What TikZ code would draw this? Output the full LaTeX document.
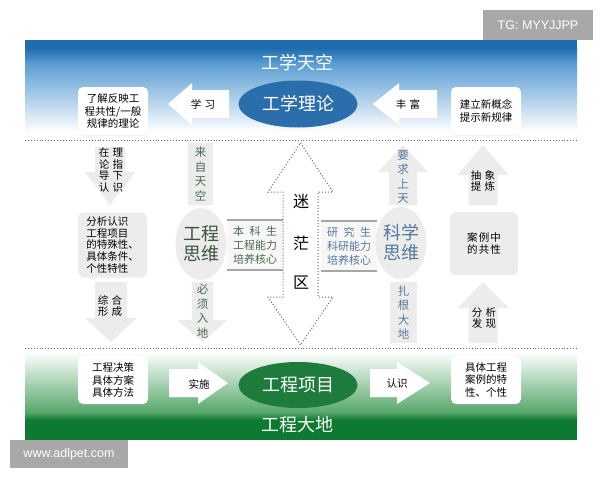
\documentclass[tikz,border=0pt]{standalone}
\usepackage{fontspec}
\setmainfont{Noto Sans CJK SC}
\newfontfamily\wmfont{Liberation Sans}
\usepackage{tikz}
\usetikzlibrary{shapes,positioning,shadows}

\definecolor{skyD}{HTML}{1E6CAD}
\definecolor{skyM}{HTML}{5C9ED3}
\definecolor{skyL}{HTML}{CFE3F3}
\definecolor{skyE}{HTML}{2A6EAB}
\definecolor{landD}{HTML}{0D7A31}
\definecolor{landM}{HTML}{58A86C}
\definecolor{landE}{HTML}{1D7B3C}
\definecolor{pale}{HTML}{ECECEC}
\definecolor{engtxt}{HTML}{4A6A4E}
\definecolor{scitxt}{HTML}{56789A}
\definecolor{wm}{HTML}{A8A8A8}

\newcommand{\gap}{\hspace{.3em}}

\tikzset{
  txt/.style={font=\fontsize{10.5}{11.7}\selectfont,align=center,inner sep=0pt},
  vtxt/.style={txt,font=\fontsize{11.5}{14.5}\selectfont},
  wbox/.style={txt,fill=white,rounded corners=5pt,minimum width=70pt,minimum height=48pt,
    font=\fontsize{10.5}{12.5}\selectfont,drop shadow={opacity=.12,shadow xshift=0pt,shadow yshift=-1pt}},
  gbox/.style={txt,fill=pale,rounded corners=6pt},
  bar/.style={vtxt,fill=pale},
  oval/.style={ellipse,inner sep=0pt,text=white,minimum width=119pt,minimum height=47pt,font=\fontsize{18}{20}\selectfont},
  think/.style={ellipse,fill=pale,minimum width=44pt,minimum height=72pt,inner sep=0pt,align=center,font=\fontsize{18}{20}\selectfont},
  core/.style={txt,fill=white!94!gray,minimum width=56pt,minimum height=50pt,font=\fontsize{11}{14}\selectfont},
  coreline/.style={line width=1.6pt,draw=gray!70},
  band/.style={text=white,inner sep=0pt,font=\fontsize{18}{20}\selectfont},
  fog/.style={inner sep=0pt,font=\fontsize{16}{18}\selectfont},
  sepline/.style={dotted,line width=.9pt,gray!80!black},
  fogline/.style={dotted,line width=1pt,gray!80!black,fill=white},
  wmbox/.style={fill=wm,text=white,inner sep=0pt,font=\wmfont\fontsize{12.5}{14}\selectfont},
  pics/varrow/.style n args={4}{code={%
    \fill[pic actions] (-#1,0) -- (-#1,{#3-(#4)}) -- (-#2,{#3-(#4)}) -- (0,#3)
      -- (#2,{#3-(#4)}) -- (#1,{#3-(#4)}) -- (#1,0) -- cycle;}},
  pics/harrow/.style n args={4}{code={%
    \fill[pic actions] (0,-#1) -- ({#3-(#4)},-#1) -- ({#3-(#4)},-#2) -- (#3,0)
      -- ({#3-(#4)},#2) -- ({#3-(#4)},#1) -- (0,#1) -- cycle;}},
}

\begin{document}
\begin{tikzpicture}[x=1pt,y=-1pt]
  \useasboundingbox (0,0) rectangle (600,480);

  % sky and land bands
  \fill[skyD] (25,40) rectangle (577,48);
  \shade[top color=skyD,bottom color=skyM] (25,48) rectangle (577,64);
  \shade[top color=skyM,middle color=skyL,bottom color=white] (25,64) rectangle (577,132);
  \shade[top color=white,bottom color=landM] (25,352) rectangle (577,412);
  \shade[top color=landM,bottom color=landD] (25,412) rectangle (577,420);
  \fill[landD] (25,420) rectangle (577,440);
  \draw[sepline] (25,140) -- (577,140);
  \draw[sepline] (25,348) -- (577,348);

  % watermarks
  \node[wmbox,minimum width=110pt,minimum height=30pt] (tg) at (538,25) {TG: MYYJJPP};
  \node[wmbox,minimum width=118pt,minimum height=28pt] (site) at (69,454) {www.adlpet.com};

  % sky row
  \node[band] (sky) at (297,63) {工学天空};
  \node[oval,fill=skyE] (theory) at (298,104) {工学理论};
  \node[wbox] (general) at (113,111) {了解反映工\\程共性/一般\\规律的理论};
  \node[wbox] (newlaw) at (486,111) {建立新概念\\提示新规律};
  \pic[fill=white] at (229,104) {harrow={14}{21}{-61}{-24}};
  \node[txt] (learn) at (203,104) {学\gap 习};
  \pic[fill=white] at (437,104) {harrow={14}{21}{-64}{-26}};
  \node[txt] (enrich) at (408,104) {丰\gap 富};

  % land row
  \node[band] (land) at (297,425) {工程大地};
  \node[oval,fill=landE,minimum height=46pt] (project) at (298,385) {工程项目};
  \node[wbox] (decide) at (113,380) {工程决策\\具体方案\\具体方法};
  \node[wbox] (feature) at (486,380) {具体工程\\案例的特\\性、个性};
  \pic[fill=white] at (169,383) {harrow={14}{21}{59}{30}};
  \node[txt] (apply) at (199,384) {实施};
  \pic[fill=white] at (370,383) {harrow={14}{21}{60}{33}};
  \node[txt] (know) at (397,384) {认识};

  % left column
  \pic[fill=pale] at (110,147) {varrow={15}{25}{58}{33}};
  \node[txt] (guide) at (111,170) {在\gap 理\\论\gap 指\\导\gap 下\\认\gap 识};
  \node[gbox,minimum width=69pt,minimum height=65pt,align=left] (analyse) at (112.5,245)
    {分析认识\\工程项目\\的特殊性、\\具体条件、\\个性特性};
  \pic[fill=pale] at (111,282) {varrow={16}{26}{60}{24}};
  \node[txt] (synth) at (110,306) {综\gap 合\\形\gap 成};

  % engineering thinking
  \node[bar,text=engtxt,minimum width=25pt,minimum height=62pt] (fromsky) at (200.5,174) {来\\自\\天\\空};
  \node[think,text=engtxt!80!black] (engthink) at (201,244) {工程\\思维};
  \pic[fill=pale] at (202.5,282) {varrow={10.5}{25}{60}{22}};
  \node[vtxt,text=engtxt] (mustland) at (202.5,311) {必\\须\\入\\地};
  \node[core,text=engtxt] (ugcore) at (255,245) {本\hspace{.5em}科\hspace{.5em}生\\工程能力\\培养核心};
  \draw[coreline] (ugcore.north west) -- (ugcore.north east);
  \draw[coreline] (ugcore.south west) -- (ugcore.south east);

  % fog zone
  \draw[fogline] (300.5,143) -- (333,192) -- (318,192) -- (318,297) -- (333,297) -- (300.5,345)
    -- (268,297) -- (283,297) -- (283,192) -- (268,192) -- cycle;
  \node[fog] (mi) at (301,202) {迷};
  \node[fog] (mang) at (301,243) {茫};
  \node[fog] (qu) at (301,283) {区};

  % science thinking
  \node[core,text=scitxt] (grcore) at (349,246) {研\hspace{.5em}究\hspace{.5em}生\\科研能力\\培养核心};
  \draw[coreline] (grcore.north west) -- (grcore.north east);
  \draw[coreline] (grcore.south west) -- (grcore.south east);
  \node[think,text=scitxt] (scithink) at (401,243) {科学\\思维};
  \pic[fill=pale] at (403,205) {varrow={14}{25}{-60}{-27}};
  \node[vtxt,text=scitxt] (demand) at (403,177) {要\\求\\上\\天};
  \node[bar,text=scitxt,minimum width=27pt,minimum height=61pt] (rootland) at (403.5,312.5) {扎\\根\\大\\地};

  % right column
  \pic[fill=pale] at (483,205) {varrow={14.5}{25.5}{-60}{-30}};
  \node[txt] (abstract) at (483,181) {抽\gap 象\\提\gap 炼};
  \node[gbox,minimum width=68pt,minimum height=63pt] (common) at (484,243.5) {案\hspace{.1em}例\hspace{.1em}中\\的\hspace{.1em}共\hspace{.1em}性};
  \pic[fill=pale] at (483,343) {varrow={14.5}{25.5}{-61}{-26}};
  \node[txt] (discover) at (484,318) {分\gap 析\\发\gap 现};
\end{tikzpicture}
\end{document}
